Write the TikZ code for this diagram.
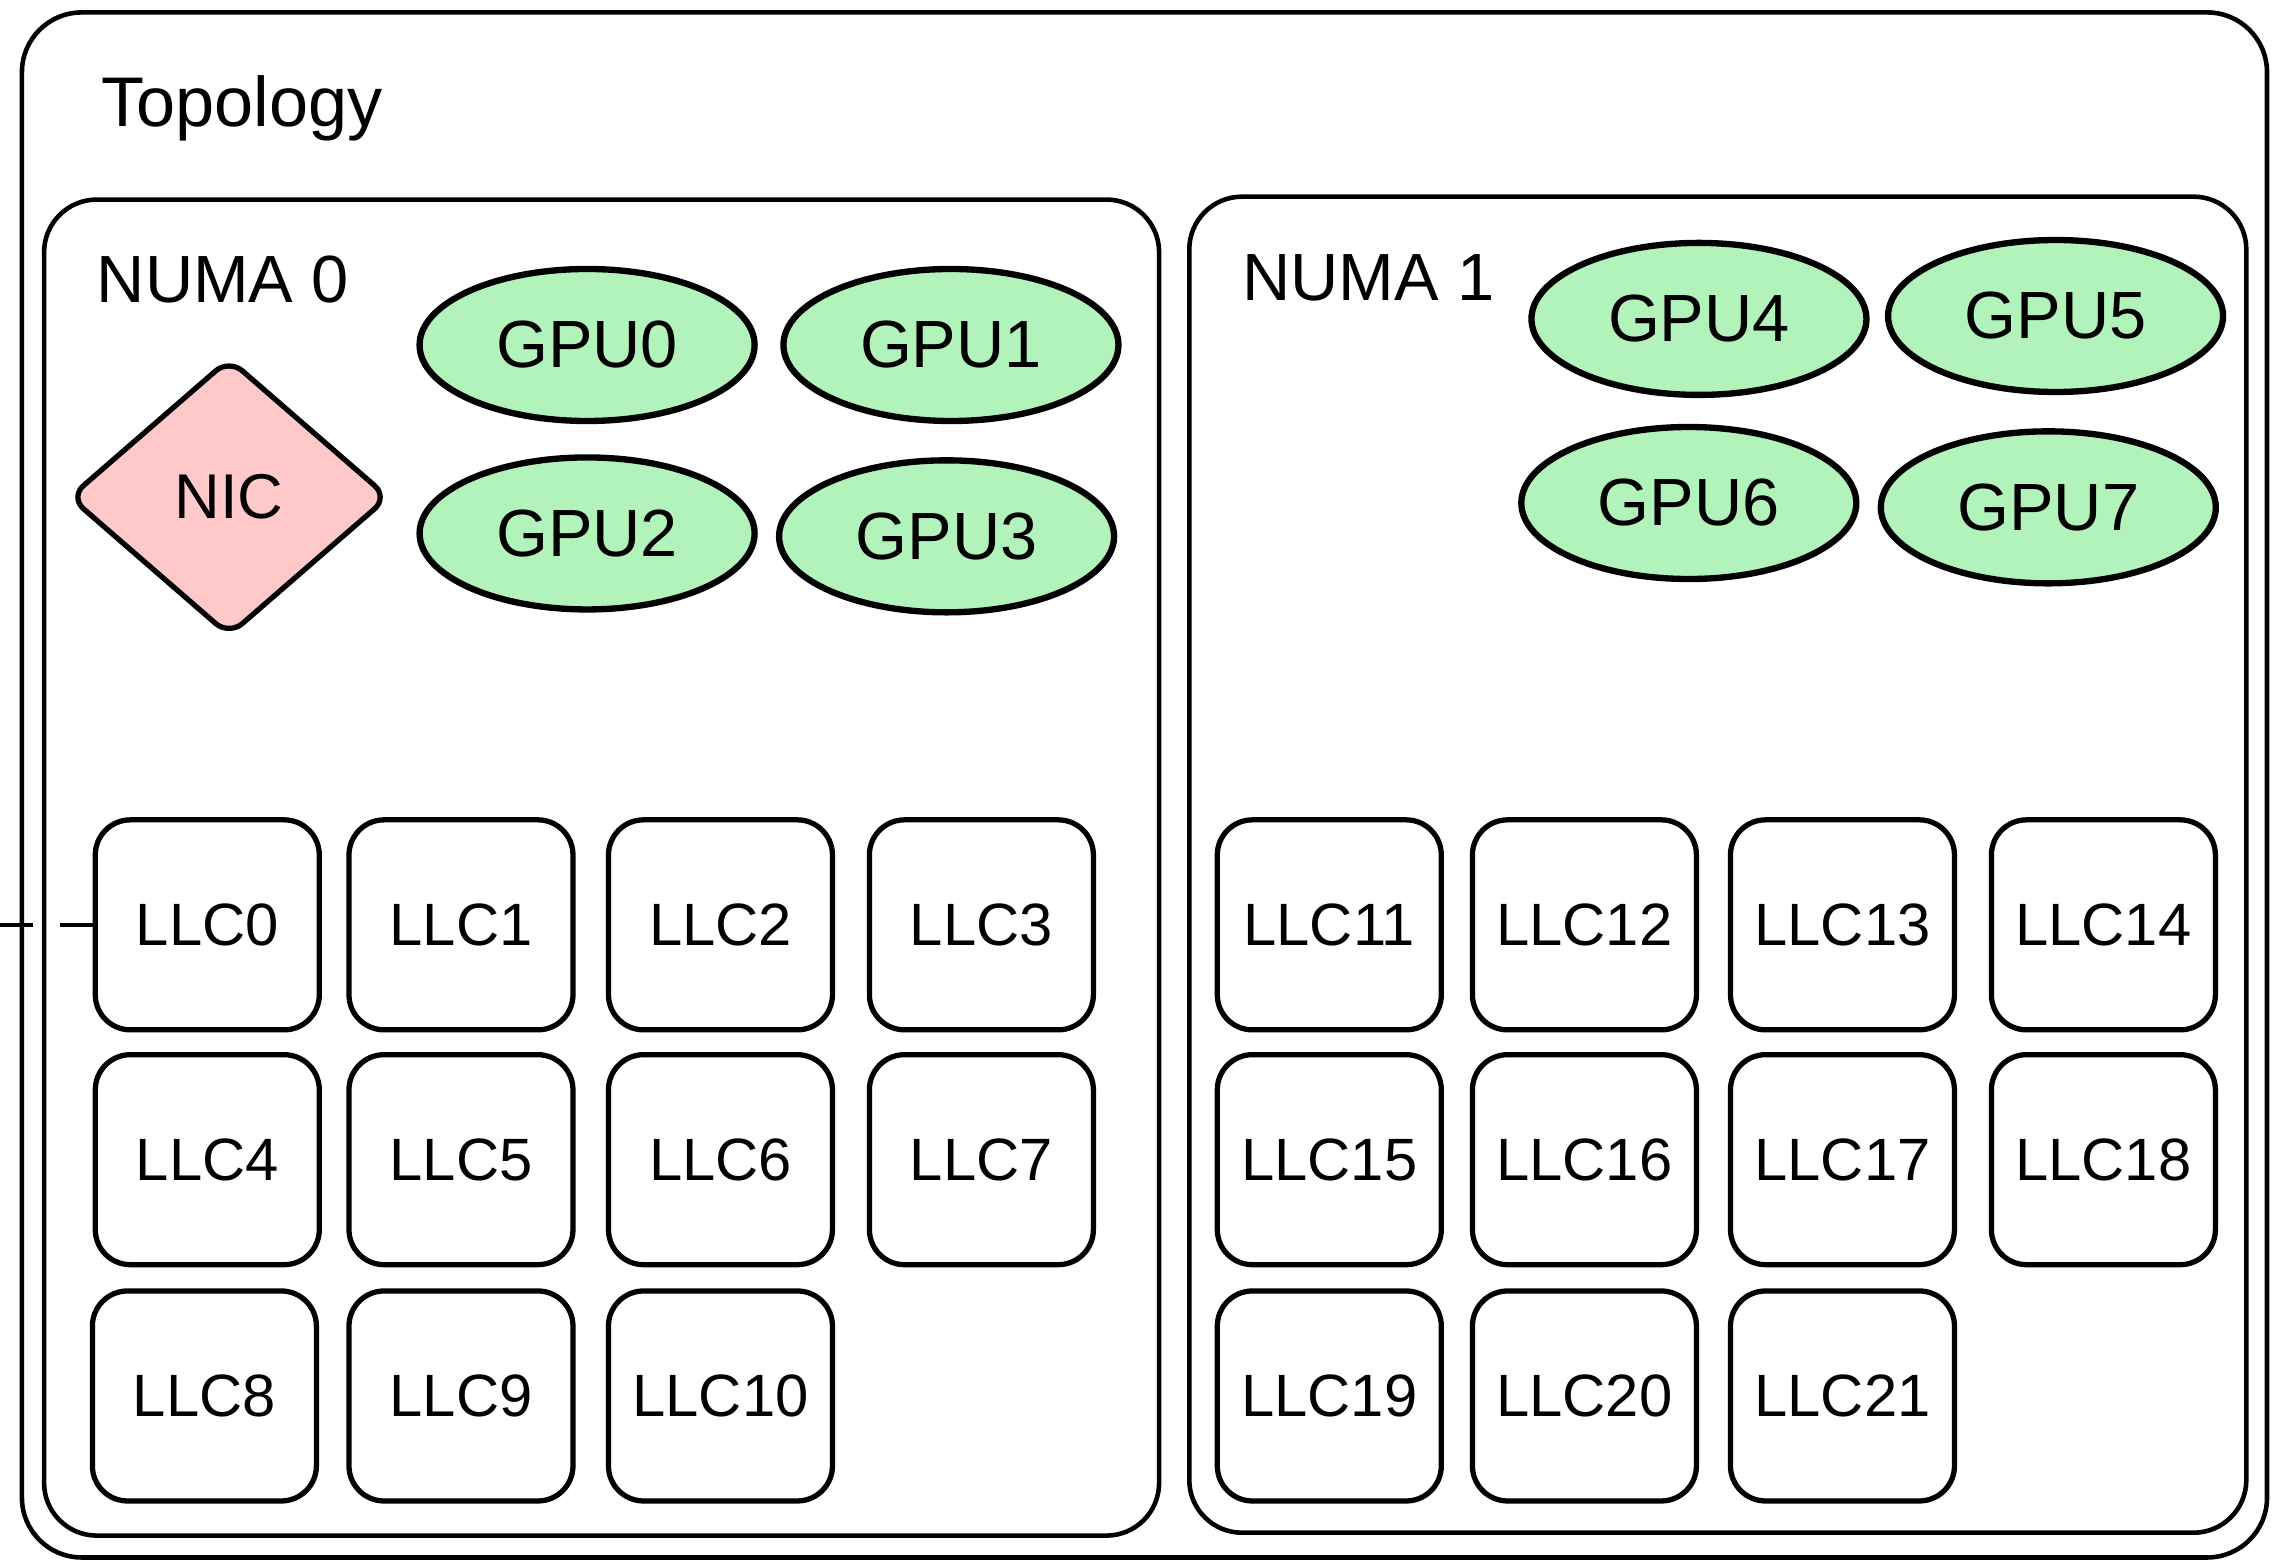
\documentclass[tikz,border=0pt]{standalone}
\usepackage{fontspec}
\setmainfont{Liberation Sans}
\usetikzlibrary{shapes.geometric}
\definecolor{gpugreen}{HTML}{B2F2BB}
\definecolor{nicpink}{HTML}{FFC9C9}

\begin{document}
\begin{tikzpicture}[x=0.0145cm,y=-0.0145cm,line width=1.5pt]
  \tikzstyle{frame}=[draw,rounded corners=15pt,line width=1.3pt,inner sep=0pt]
  \tikzstyle{title}=[anchor=west,inner sep=0pt,font=\fontsize{19}{22}\selectfont]
  \tikzstyle{gpu}=[ellipse,draw,fill=gpugreen,line width=1.8pt,minimum width=3.35cm,minimum height=1.52cm,inner sep=0pt,font=\fontsize{19}{22}\selectfont]
  \tikzstyle{nic}=[diamond,draw,fill=nicpink,rounded corners=5pt,minimum width=3.2cm,minimum height=2.78cm,inner sep=0pt,font=\fontsize{18}{22}\selectfont]
  \tikzstyle{llc}=[draw,rounded corners=10pt,minimum width=2.24cm,minimum height=2.1cm,inner sep=0pt,font=\fontsize{17}{20}\selectfont]
  \useasboundingbox (0,0) rectangle (1568,1078);

  % containers
  \node[frame,rounded corners=17pt,minimum width=22.45cm,minimum height=15.45cm] (topo) at (789.5,541.5) {};
  \node[frame,minimum width=11.15cm,minimum height=13.36cm] (numa0) at (415,598.5) {};
  \node[frame,minimum width=10.57cm,minimum height=13.36cm] (numa1) at (1185,596.5) {};
  \node[title,font=\fontsize{20}{24}\selectfont] (tl) at (68,75) {Topology};
  \node[title] (n0l) at (65,193) {NUMA 0};
  \node[title] (n1l) at (855,192) {NUMA 1};

  % NUMA 0
  \node[nic] (N) at (158,343) {NIC};
  \node[gpu] (G0) at (405,238) {GPU0};
  \node[gpu] (G1) at (656,238) {GPU1};
  \node[gpu] (G2) at (405,368) {GPU2};
  \node[gpu] (G3) at (653,370) {GPU3};
  \node[llc] (L0) at (143,638) {LLC0};
  \node[llc] (L1) at (318,638) {LLC1};
  \node[llc] (L2) at (497,638) {LLC2};
  \node[llc] (L3) at (677,638) {LLC3};
  \node[llc] (L4) at (143,800) {LLC4};
  \node[llc] (L5) at (318,800) {LLC5};
  \node[llc] (L6) at (497,800) {LLC6};
  \node[llc] (L7) at (677,800) {LLC7};
  \node[llc] (L8) at (141,963) {LLC8};
  \node[llc] (L9) at (318,963) {LLC9};
  \node[llc] (L10) at (497,963) {LLC10};

  % NUMA 1
  \node[gpu] (G4) at (1172,220) {GPU4};
  \node[gpu] (G5) at (1418,218) {GPU5};
  \node[gpu] (G6) at (1165,347) {GPU6};
  \node[gpu] (G7) at (1413,350) {GPU7};
  \node[llc] (L11) at (917,638) {LLC11};
  \node[llc] (L12) at (1093,638) {LLC12};
  \node[llc] (L13) at (1271,638) {LLC13};
  \node[llc] (L14) at (1451,638) {LLC14};
  \node[llc] (L15) at (917,800) {LLC15};
  \node[llc] (L16) at (1093,800) {LLC16};
  \node[llc] (L17) at (1271,800) {LLC17};
  \node[llc] (L18) at (1451,800) {LLC18};
  \node[llc] (L19) at (917,963) {LLC19};
  \node[llc] (L20) at (1093,963) {LLC20};
  \node[llc] (L21) at (1271,963) {LLC21};

  % cut-off link at the left edge
  \coordinate (E) at (0,638);
  \draw[line width=1.3pt,dash pattern=on 9.4pt off 7.7pt] (E) -- (L0);
\end{tikzpicture}
\end{document}
